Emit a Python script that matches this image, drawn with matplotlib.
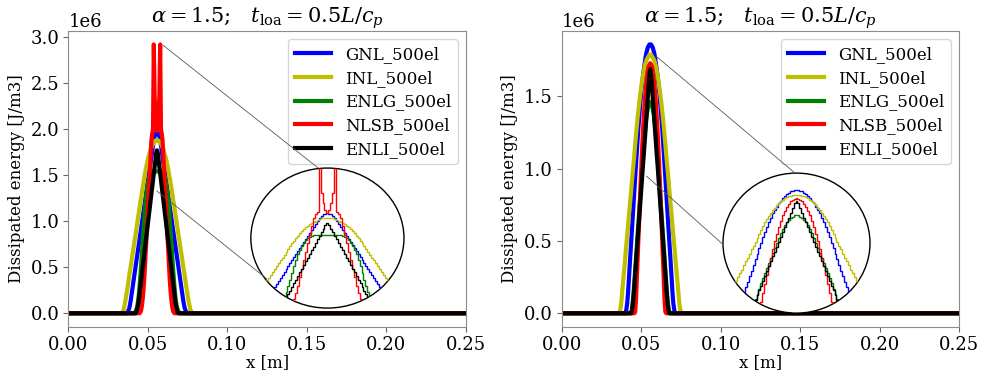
import numpy as np
import matplotlib
matplotlib.use("Agg")
import matplotlib.pyplot as plt
from matplotlib.patches import Ellipse, ConnectionPatch

plt.rcParams["font.family"] = "DejaVu Serif"
plt.rcParams["mathtext.fontset"] = "dejavuserif"

# bar of 0.25 m meshed with 500 linear elements
L_BAR, N_EL = 0.25, 500
PEAK_EL = 111  # element at the centre of the localisation band

labels = ["GNL_500el", "INL_500el", "ENLG_500el", "NLSB_500el", "ENLI_500el"]
colors = ["b", "y", "g", "r", "k"]
title = r"$\alpha = 1.5$;   $t_{\rm loa} = 0.5L/c_p$"

# dissipated energy per element [1e6 J/m3], read from the peak element outward
# (profiles are symmetric about PEAK_EL)
left_GNL = [1.97, 1.96, 1.95, 1.92, 1.87, 1.82, 1.76, 1.70, 1.64, 1.58, 1.52, 1.46, 1.40, 1.34,
            1.28, 1.22, 1.16, 1.10, 1.04, 0.98, 0.92, 0.86, 0.80, 0.74, 0.68, 0.62, 0.56, 0.50,
            0.44, 0.38, 0.32, 0.26, 0.20, 0.14, 0.09, 0.05, 0.03, 0.01]
left_INL = [1.88, 1.88, 1.87, 1.87, 1.85, 1.84, 1.82, 1.80, 1.78, 1.75, 1.72, 1.69, 1.65, 1.61,
            1.57, 1.52, 1.47, 1.42, 1.37, 1.31, 1.25, 1.20, 1.14, 1.08, 1.03, 0.97, 0.91, 0.85,
            0.80, 0.74, 0.68, 0.63, 0.57, 0.51, 0.46, 0.40, 0.34, 0.28, 0.23, 0.17, 0.12, 0.08,
            0.04, 0.02, 0.01]
left_ENLG = [1.54, 1.54, 1.54, 1.54, 1.54, 1.54, 1.53, 1.53, 1.51, 1.50, 1.47, 1.43, 1.38, 1.32,
             1.24, 1.15, 1.03, 0.91, 0.78, 0.64, 0.51, 0.39, 0.28, 0.19, 0.12, 0.07, 0.04, 0.02,
             0.01]
left_NLSB = [1.98, 2.03, 2.17, 2.37, 2.92, 2.00, 1.95, 1.88, 1.71, 1.54, 1.37, 1.20, 1.03, 0.86,
             0.69, 0.52, 0.37, 0.25, 0.15, 0.08, 0.03, 0.01]
left_ENLI = [1.77, 1.74, 1.66, 1.59, 1.52, 1.45, 1.37, 1.30, 1.23, 1.15, 1.08, 1.01, 0.93, 0.86,
             0.79, 0.72, 0.64, 0.57, 0.50, 0.42, 0.35, 0.28, 0.20, 0.13, 0.08, 0.04, 0.01]

right_GNL = [1.86, 1.86, 1.85, 1.84, 1.82, 1.80, 1.77, 1.73, 1.69, 1.65, 1.60, 1.55, 1.49, 1.42,
             1.35, 1.28, 1.20, 1.11, 1.02, 0.94, 0.85, 0.76, 0.67, 0.58, 0.50, 0.41, 0.32, 0.23,
             0.14, 0.07, 0.03]
right_INL = [1.79, 1.79, 1.78, 1.77, 1.76, 1.75, 1.73, 1.71, 1.68, 1.65, 1.62, 1.58, 1.54, 1.50,
             1.45, 1.40, 1.35, 1.29, 1.23, 1.17, 1.10, 1.04, 0.98, 0.92, 0.85, 0.79, 0.73, 0.67,
             0.60, 0.54, 0.48, 0.42, 0.35, 0.29, 0.23, 0.17, 0.10, 0.05, 0.02]
right_ENLG = [1.46, 1.46, 1.44, 1.42, 1.39, 1.35, 1.30, 1.24, 1.18, 1.10, 1.02, 0.94, 0.86, 0.78,
              0.70, 0.62, 0.54, 0.46, 0.38, 0.30, 0.22, 0.14, 0.08, 0.03, 0.01]
right_NLSB = [1.73, 1.72, 1.71, 1.68, 1.64, 1.59, 1.53, 1.46, 1.37, 1.28, 1.17, 1.05, 0.92, 0.79,
              0.65, 0.51, 0.37, 0.23, 0.09, 0.01]
right_ENLI = [1.69, 1.65, 1.58, 1.50, 1.42, 1.35, 1.27, 1.19, 1.11, 1.04, 0.96, 0.88, 0.81, 0.73,
              0.65, 0.58, 0.50, 0.42, 0.34, 0.27, 0.19, 0.12, 0.06, 0.02]

left_series = [left_GNL, left_INL, left_ENLG, left_NLSB, left_ENLI]
right_series = [right_GNL, right_INL, right_ENLG, right_NLSB, right_ENLI]

# zoom windows of the circular insets (x [m], y [J/m3])
left_zoom = dict(xlim=(0.0361, 0.0754), ylim=(0.07e6, 2.87e6))
right_zoom = dict(xlim=(0.0369, 0.0746), ylim=(-0.09e6, 2.13e6))

edges = np.linspace(0, L_BAR, N_EL + 1)
centers = 0.5 * (edges[1:] + edges[:-1])


def element_values(half):
    half = np.asarray(half) * 1e6
    n = len(half)
    full = np.zeros(N_EL)
    full[PEAK_EL - n + 1:PEAK_EL + n] = np.r_[half[:0:-1], half]
    return full


fig = plt.figure(figsize=(9.84, 3.75), dpi=100)
ax1 = fig.add_axes([0.0694, 0.1288, 0.4042, 0.7885])
ax2 = fig.add_axes([0.5708, 0.1288, 0.4038, 0.7885])

panels = [
    (ax1, left_series, left_zoom, [0.459, 0.063, 0.385, 0.4735], np.arange(0, 3.01, 0.5),
     [((0.0597, 2.91e6), (0.44, 1.0)), ((0.0556, 1.33e6), (0.103, 0.21))]),
    (ax2, right_series, right_zoom, [0.406, 0.046, 0.370, 0.4735], np.arange(0, 1.51, 0.5),
     [((0.0593, 1.78e6), (0.49, 1.0)), ((0.0534, 0.949e6), (0.0, 0.49))]),
]

for ax, series, zoom, ins_pos, yt, links in panels:
    for vals, lab, col in zip(series, labels, colors):
        ax.plot(np.r_[0, centers, L_BAR], np.r_[0, element_values(vals), 0],
                color=col, lw=3, label=lab)
    ax.set_xlim(0, L_BAR)
    ax.margins(y=0.05)
    ax.set_xticks(np.arange(0, 0.251, 0.05))
    ax.set_yticks(yt * 1e6)
    ax.tick_params(labelsize=13, color="0.4", pad=3)
    ax.yaxis.get_offset_text().set_fontsize(13)
    for sp in ax.spines.values():
        sp.set_edgecolor("0.55")
    ax.set_xlabel("x [m]", fontsize=12, labelpad=0)
    ax.set_ylabel("Dissipated energy [J/m3]", fontsize=12)
    ax.set_title(title, fontsize=15, pad=4)
    ax.legend(loc="upper right", fontsize=12, handlelength=2.2, labelspacing=0.4)

    # circular magnifier
    axins = ax.inset_axes(ins_pos)
    ell = Ellipse((0.5, 0.5), 1, 1, transform=axins.transAxes, fc="white", ec="k",
                  lw=1, zorder=0, clip_on=False)
    axins.add_artist(ell)
    for vals, col in zip(series, colors):
        st = axins.stairs(element_values(vals), edges, color=col, lw=1)
        st.set_clip_path(ell)
    axins.set_xlim(*zoom["xlim"])
    axins.set_ylim(*zoom["ylim"])
    axins.set_xticks([])
    axins.set_yticks([])
    axins.axis("off")

    for xyA, xyB in links:
        con = ConnectionPatch(xyA=xyA, coordsA=ax.transData, xyB=xyB, coordsB=axins.transAxes,
                              color="0.35", lw=0.6)
        fig.add_artist(con)

fig.savefig("out.png", dpi=100)
